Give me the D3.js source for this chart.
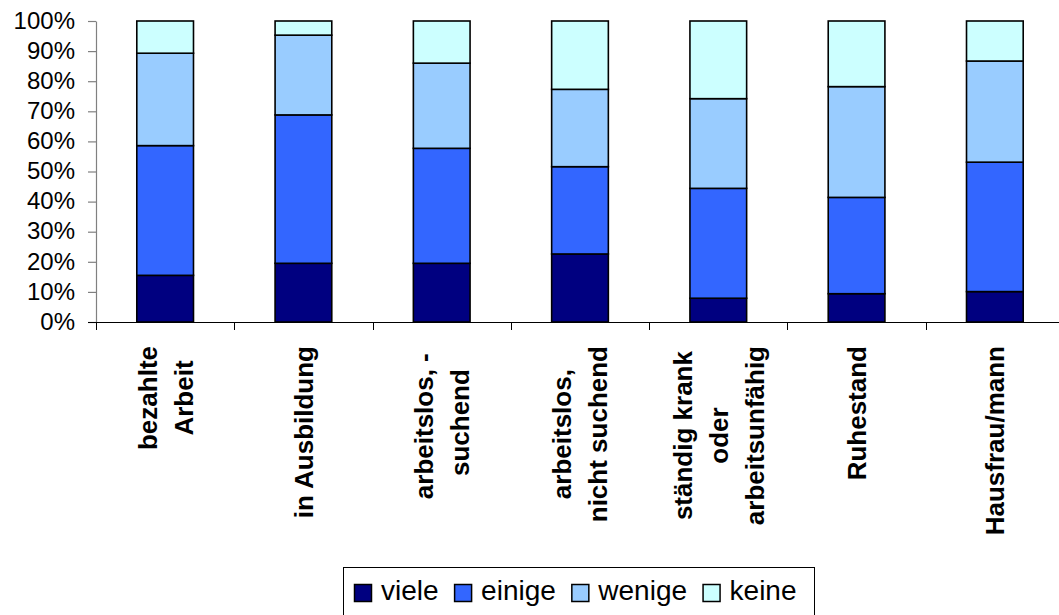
<!DOCTYPE html>
<html>
<head>
<meta charset="utf-8">
<script src="https://cdn.jsdelivr.net/npm/d3@7/dist/d3.min.js"></script>
<style>
  html, body { margin: 0; padding: 0; background: #fff; }
  svg { display: block; font-family: "Liberation Sans", Arial, sans-serif; }
</style>
</head>
<body>
<svg id="chart" width="1059" height="615"></svg>
<script>
// Activity status categories (line breaks mark wrapped label lines)
const categories = [
  "bezahlte\nArbeit",
  "in Ausbildung",
  "arbeitslos, - \nsuchend",
  "arbeitslos,\nnicht suchend",
  "ständig krank\noder\narbeitsunfähig",
  "Ruhestand",
  "Hausfrau/mann"
];

// Series names, shown in the legend
const seriesNames = ["viele", "einige", "wenige", "keine"];

// Shares per category, in percent
const viele  = [15.5, 19.5, 19.5, 22.6,  7.9,  9.4, 10.1];
const einige = [43.1, 49.3, 38.2, 29.0, 36.5, 32.0, 43.0];
const wenige = [30.7, 26.5, 28.3, 25.7, 29.8, 36.8, 33.6];
const keine  = [10.7,  4.7, 14.0, 22.7, 25.8, 21.8, 13.3];

const yTickValues = [0, 0.1, 0.2, 0.3, 0.4, 0.5, 0.6, 0.7, 0.8, 0.9, 1];

const colors = ["#000080", "#3366FF", "#99CCFF", "#CCFFFF"];

const rows = categories.map((c, i) => ({
  cat: c,
  viele: viele[i],
  einige: einige[i],
  wenige: wenige[i],
  keine: keine[i]
}));

const svg = d3.select("#chart");

const plot = { left: 96, right: 1064, top: 21, bottom: 322 };

const x = d3.scaleBand()
  .domain(categories)
  .range([plot.left, plot.right])
  .paddingInner(0.59)
  .paddingOuter(0.295);

const y = d3.scaleLinear()
  .domain([0, 1])
  .range([plot.bottom, plot.top]);

const color = d3.scaleOrdinal().domain(seriesNames).range(colors);

const stacked = d3.stack()
  .keys(seriesNames)
  .offset(d3.stackOffsetExpand)(rows);

// Stacked bars
svg.append("g")
  .selectAll("g")
  .data(stacked)
  .join("g")
    .attr("fill", d => color(d.key))
  .selectAll("rect")
  .data(d => d)
  .join("rect")
    .attr("x", d => x(d.data.cat))
    .attr("width", x.bandwidth())
    .attr("y", d => y(d[1]))
    .attr("height", d => y(d[0]) - y(d[1]))
    .attr("stroke", "#000")
    .attr("stroke-width", 1.6);

// Y axis
const yAxis = svg.append("g")
  .attr("transform", `translate(${plot.left},0)`)
  .call(d3.axisLeft(y)
    .tickValues(yTickValues)
    .tickFormat(d3.format(".0%"))
    .tickSize(8)
    .tickSizeOuter(0)
    .tickPadding(13));
yAxis.select(".domain").attr("stroke", "#808080").attr("stroke-width", 1.2);
yAxis.selectAll(".tick line").attr("stroke", "#808080").attr("stroke-width", 1.2);
yAxis.selectAll(".tick text")
  .attr("fill", "#000")
  .attr("font-size", 24)
  .attr("font-family", "'Liberation Sans', Arial, sans-serif")
  .attr("dy", "0.3em");

// X axis line with ticks between categories
const xAxis = svg.append("g");
xAxis.append("line")
  .attr("x1", plot.left - 8).attr("x2", plot.right)
  .attr("y1", plot.bottom + 0.5).attr("y2", plot.bottom + 0.5)
  .attr("stroke", "#000").attr("stroke-width", 1);
const boundaries = d3.range(categories.length + 1).map(i => plot.left + i * x.step());
xAxis.selectAll("line.tick")
  .data(boundaries)
  .join("line")
    .attr("class", "tick")
    .attr("x1", d => Math.round(d) + 0.5).attr("x2", d => Math.round(d) + 0.5)
    .attr("y1", plot.bottom).attr("y2", plot.bottom + 8)
    .attr("stroke", "#000").attr("stroke-width", 1);

// Rotated category labels
const labelTop = 346;
const lineGap = 36;
const labelFont = 26;
const labels = svg.append("g")
  .attr("font-size", labelFont)
  .attr("font-weight", "bold")
  .attr("fill", "#000");

categories.forEach(cat => {
  const lines = cat.split("\n");
  const cx = x(cat) + x.bandwidth() / 2;
  const t = labels.append("text")
    .attr("transform", "rotate(-90)")
    .attr("text-anchor", "middle")
    .attr("xml:space", "preserve")
    .style("white-space", "pre");
  const spans = lines.map((ln, i) => t.append("tspan")
    .text(ln)
    .attr("y", cx + (i - (lines.length - 1) / 2) * lineGap)
    .attr("dy", "0.36em"));
  const maxLen = d3.max(spans, s => s.node().getComputedTextLength());
  spans.forEach(s => s.attr("x", -(labelTop + maxLen / 2)));
});

// Legend
const legend = svg.append("g");
legend.append("rect")
  .attr("x", 343.5).attr("y", 567.5)
  .attr("width", 471).attr("height", 60)
  .attr("fill", "#fff")
  .attr("stroke", "#000").attr("stroke-width", 1);

const legendFont = 28;
let lx = 354.5;
seriesNames.forEach((name, i) => {
  const g = legend.append("g");
  g.append("rect")
    .attr("x", lx).attr("y", 584.5)
    .attr("width", 17).attr("height", 17)
    .attr("fill", color(name))
    .attr("stroke", "#000").attr("stroke-width", 1.5);
  const txt = g.append("text")
    .attr("x", lx + 26.5).attr("y", 600)
    .attr("font-size", legendFont)
    .attr("fill", "#000")
    .text(name);
  lx += 26.5 + txt.node().getComputedTextLength() + 16;
});
</script>
</body>
</html>
